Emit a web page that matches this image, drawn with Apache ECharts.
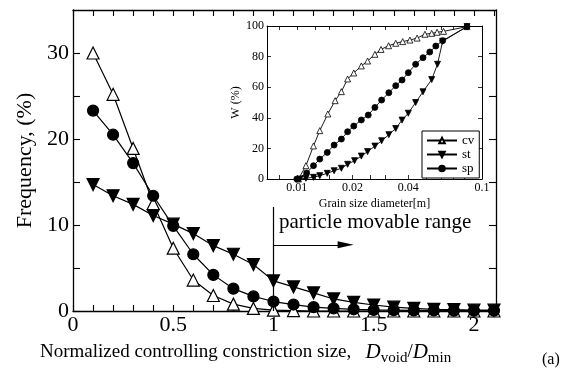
<!DOCTYPE html>
<html><head><meta charset="utf-8">
<script src="https://cdn.jsdelivr.net/npm/echarts@6/dist/echarts.min.js"></script>
<style>html,body{margin:0;padding:0;background:#fff}#c{width:575px;height:378px}</style>
</head><body><div id="c"></div>
<script>
// ---- main chart data ----
const ratio   = [0.1,0.2,0.3,0.4,0.5,0.6,0.7,0.8,0.9,1.0,1.1,1.2,1.3,1.4,1.5,1.6,1.7,1.8,1.9,2.0,2.1];
const freqCv  = [30.0,25.2,18.9,12.5,7.3,3.6,1.8,0.8,0.3,0.1,0.05,0,0,0,0,0,0,0,0,0,0];
const freqSt  = [14.7,13.4,12.4,11.1,10.1,9.0,7.6,6.6,5.4,3.5,2.8,2.1,1.4,1.0,0.7,0.45,0.3,0.2,0.15,0.1,0.1];
const freqSp  = [23.3,20.5,17.2,13.4,9.9,6.6,4.2,2.6,1.7,1.1,0.75,0.45,0.3,0.2,0.12,0.1,0.08,0.06,0.05,0.05,0.05];
const mainXTickLabels = [0,0.5,1,1.5,2];
const mainXTicks = [0,0.1,0.2,0.3,0.4,0.5,0.6,0.7,0.8,0.9,1,1.1,1.2,1.3,1.4,1.5,1.6,1.7,1.8,1.9,2,2.1];
const mainYTickLabels = [0,10,20,30];
const mainYTicks = [0,5,10,15,20,25,30];

// ---- inset data (grain size distribution) ----
const cvD = [0.0102,0.0112,0.0123,0.0133,0.0147,0.0161,0.0174,0.0188,0.0203,0.0223,0.0241,0.0264,0.0285,0.0313,0.0342,0.0373,0.0408,0.0446,0.0492,0.0535,0.0572,0.0620,0.083];
const cvW = [0,8.7,21.6,31.6,42.5,51.2,57.1,65.4,69.3,73.9,77.1,81.5,84.7,87.1,88.7,89.8,90.8,92.1,94.6,95.2,95.9,96.5,99.6];
const stD = [0.0104,0.0112,0.0123,0.0133,0.0146,0.0159,0.0174,0.0188,0.0205,0.0223,0.0241,0.0264,0.0287,0.0314,0.0342,0.0370,0.0400,0.0438,0.0480,0.0535,0.0575,0.0613,0.083];
const stW = [0,0.5,1.1,2.2,3.7,5.4,7,9.6,12,15,17.9,21.5,25,29,33,38.5,43,50,57,65,75,90,99.6];
const spD = [0.0100,0.0113,0.0123,0.0133,0.0146,0.0159,0.0174,0.0188,0.0203,0.0223,0.0243,0.0264,0.0287,0.0314,0.0342,0.0370,0.0400,0.0438,0.0480,0.0522,0.0563,0.0613,0.083];
const spW = [0,4,8.7,13,17.4,22.2,26.1,30.9,34.6,38.6,41.8,46.8,51.6,56.4,61,64.7,69.5,75,79.3,83,86.9,90.4,99.6];
const insetXTickLabels = [0.01,0.02,0.04,0.1];
const insetXTicks = [0.008,0.01,0.0125,0.015,0.02,0.025,0.03,0.04,0.05,0.06,0.07,0.08,0.1];
const insetYTickLabels = [0,20,40,60,80,100];

const FONT = 'Liberation Serif';
const LOG = v => Math.log10(v);
const axisLine = {show:true, onZero:false, lineStyle:{color:'#000', width:1.3}};
const tickStyle = {color:'#000', width:1.1};

function mainX(pos, labels){
  return {type:'value', gridIndex:0, position:pos, min:0, max:2.11,
    axisLine, splitLine:{show:false},
    axisTick:{show:true, inside:true, length:6, lineStyle:tickStyle, customValues:mainXTicks},
    axisLabel:{show:labels, customValues:mainXTickLabels, color:'#000', fontFamily:FONT, fontSize:22, margin:3}};
}
function mainY(pos, labels){
  return {type:'value', gridIndex:0, position:pos, min:0, max:35,
    axisLine, splitLine:{show:false},
    axisTick:{show:true, inside:true, length:7, lineStyle:tickStyle, customValues:mainYTicks},
    axisLabel:{show:labels, customValues:mainYTickLabels, color:'#000', fontFamily:FONT, fontSize:22, margin:4},
    name: labels ? 'Frequency, (%)' : '', nameLocation:'middle', nameGap:36, nameRotate:90,
    nameTextStyle:{color:'#000', fontFamily:FONT, fontSize:22}};
}
function fmtInset(v){
  let best = insetXTickLabels[0];
  insetXTickLabels.forEach(t=>{ if (Math.abs(LOG(t)-v) < Math.abs(LOG(best)-v)) best=t; });
  return String(best);
}
const insetLine = {show:true, onZero:false, lineStyle:{color:'#000', width:1}};
function insetX(pos, labels){
  return {type:'value', gridIndex:1, position:pos, min:LOG(0.0069), max:LOG(0.1),
    axisLine:insetLine, splitLine:{show:false},
    axisTick:{show:true, inside:true, length:4, lineStyle:{color:'#000', width:0.8}, customValues:insetXTicks.map(LOG)},
    axisLabel:{show:labels, customValues:insetXTickLabels.map(LOG), formatter:fmtInset, color:'#000', fontFamily:FONT, fontSize:12, margin:3},
    name: labels ? 'Grain size diameter[m]' : '', nameLocation:'middle', nameGap:19,
    nameTextStyle:{color:'#000', fontFamily:FONT, fontSize:12}};
}
function insetY(pos, labels){
  return {type:'value', gridIndex:1, position:pos, min:0, max:100, interval:20,
    axisLine:insetLine, splitLine:{show:false},
    axisTick:{show:true, inside:true, length:4, lineStyle:{color:'#000', width:0.8}},
    axisLabel:{show:labels, color:'#000', fontFamily:FONT, fontSize:12, margin:3},
    name: labels ? 'W (%)' : '', nameLocation:'middle', nameGap:22, nameRotate:90,
    nameTextStyle:{color:'#000', fontFamily:FONT, fontSize:12}};
}

const lineBlack = {color:'#000', width:1.2};
function mainSeries(name, ys, symbol, rot, fill, size){
  return {type:'line', name, xAxisIndex:0, yAxisIndex:0, data: ratio.map((x,i)=>[x, ys[i]]),
    symbol, symbolRotate:rot, symbolSize:size, showAllSymbol:true,
    itemStyle:{color:fill, borderColor:'#000', borderWidth:1.2}, lineStyle:lineBlack, z:3};
}
function insetSeries(name, xs, ys, symbol, rot, fill){
  return {type:'line', name, xAxisIndex:2, yAxisIndex:2, data: xs.map((x,i)=>[LOG(x), ys[i]]),
    symbol, symbolRotate:rot, symbolSize:6, showAllSymbol:true,
    itemStyle:{color:fill, borderColor:'#000', borderWidth:0.8}, lineStyle:{color:'#000', width:0.9}, z:4};
}

// annotation geometry (in data units of the main chart)
const boundaryX = 1, boundaryTop = 12.1, arrowY = 7.7, arrowEnd = 1.36;

const sp = mainSeries('sp-main', freqSp, 'circle', 0, '#000', 11);
sp.markLine = {silent:true, symbol:'none', animation:false, label:{show:false},
  lineStyle:{color:'#000', width:1.2, type:'solid'},
  data:[
    [{coord:[boundaryX,0]},{coord:[boundaryX,boundaryTop]}],
    [{coord:[boundaryX,arrowY], symbol:'none'},{coord:[arrowEnd,arrowY], symbol:'triangle', symbolSize:[7,16]}]
  ]};

const option = {
  animation:false,
  backgroundColor:'#fff',
  grid:[
    {left:73, right:79, top:10, bottom:67, show:false},
    {left:267, right:93, top:26, bottom:199, show:true, backgroundColor:'#fff', borderWidth:0}
  ],
  xAxis:[mainX('bottom', true), mainX('top', false), insetX('bottom', true), insetX('top', false)],
  yAxis:[mainY('left', true), mainY('right', false), insetY('left', true), insetY('right', false)],
  legend:{data:['cv','st','sp'], orient:'vertical', left:422, top:131,
    borderColor:'#000', borderWidth:1, backgroundColor:'#fff', padding:[3,5,3,4], itemGap:1,
    itemWidth:30, itemHeight:7, textStyle:{color:'#000', fontFamily:FONT, fontSize:13}},
  series:[
    mainSeries('cv-main', freqCv, 'triangle', 0, '#fff', 12),
    mainSeries('st-main', freqSt, 'triangle', 180, '#000', 12),
    sp,
    insetSeries('cv', cvD, cvW, 'triangle', 0, '#fff'),
    insetSeries('st', stD, stW, 'triangle', 180, '#000'),
    insetSeries('sp', spD, spW, 'circle', 0, '#000')
  ],
  graphic:[
    {type:'text', left:279, top:212, style:{text:'particle movable range', fill:'#000', font:'21px "Liberation Serif"'}},
    {type:'text', left:40, top:342, style:{
      text:'{n|Normalized controlling constriction size,   }{d|D}{s|void}{n|/}{d|D}{s|min}',
      fill:'#000',
      rich:{
        n:{fontFamily:FONT, fontSize:19, fill:'#000'},
        d:{fontFamily:FONT, fontSize:21, fontStyle:'italic', fill:'#000'},
        s:{fontFamily:FONT, fontSize:15, fill:'#000', padding:[12,0,0,0]}
      }}},
    {type:'text', left:542, top:352, style:{text:'(a)', fill:'#000', font:'16px "Liberation Serif"'}}
  ]
};
echarts.init(document.getElementById('c')).setOption(option);
</script></body></html>
